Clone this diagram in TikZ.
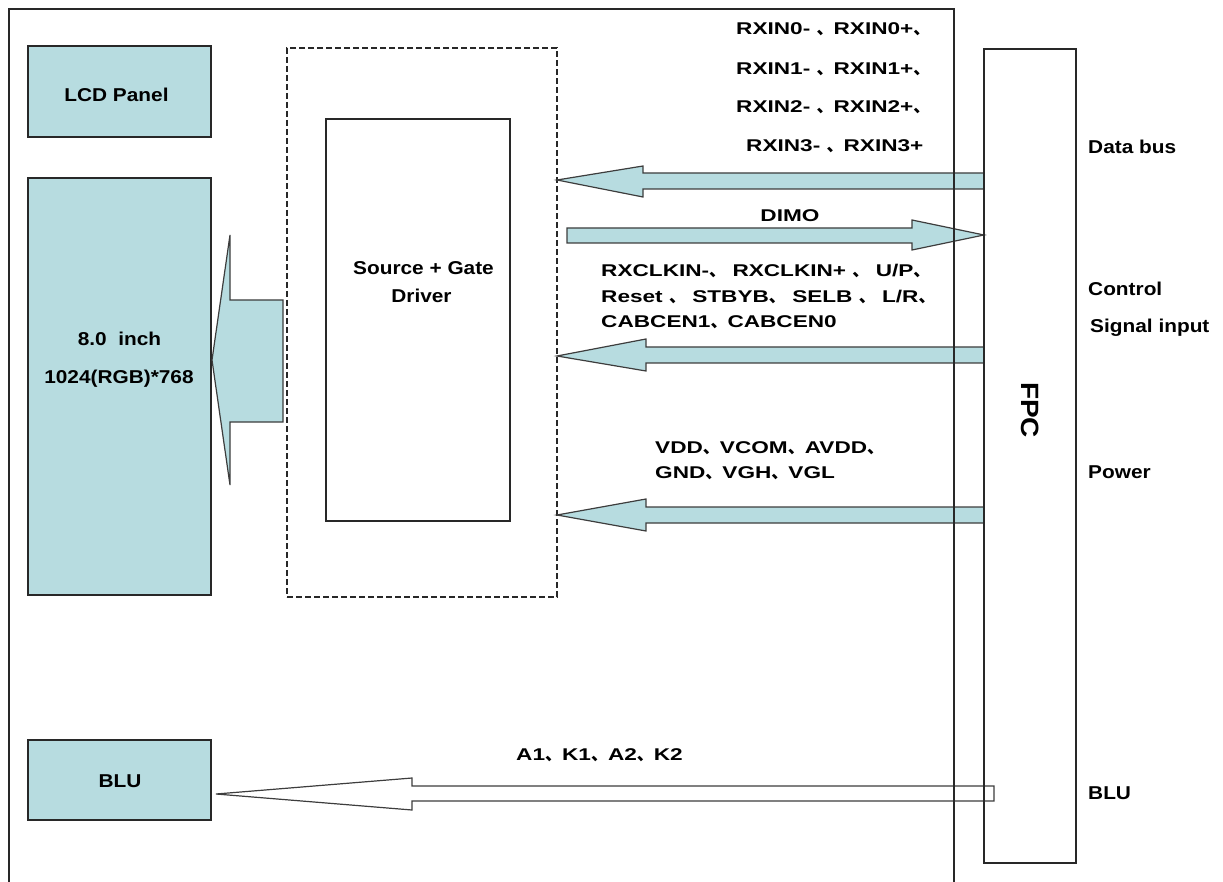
\documentclass[tikz,border=0pt]{standalone}
\usepackage{fontspec}
\setmainfont{Liberation Sans}
\newfontfamily\bigf{Liberation Sans}[FakeStretch=1.12]
\newfontfamily\smf{Liberation Sans}[FakeStretch=1.33]
\newfontfamily\cjk{Noto Sans CJK SC}
\newcommand\dn{{\cjk 、}}
\definecolor{panel}{RGB}{183,220,224}
\definecolor{edge}{RGB}{40,40,40}
\begin{document}
\begin{tikzpicture}[x=1pt,y=-1pt,
  box/.style={draw=edge,line width=1.3pt,inner sep=0pt,outer sep=0pt},
  filled/.style={box,fill=panel},
  bigt/.style={font=\bigf\bfseries\fontsize{18.6}{22}\selectfont,inner sep=0pt},
  smt/.style={font=\smf\bfseries\fontsize{17}{20}\selectfont,inner sep=0pt,anchor=base west},
  barrow/.style={draw=edge!90,line width=1.2pt,fill=panel,line join=miter},
  warrow/.style={draw=edge!90,line width=1.2pt,fill=white,line join=miter},
]
\useasboundingbox (0,0) rectangle (1223,882);

% boxes
\node[filled,minimum width=183pt,minimum height=91pt] (lcd) at (119.5,91.5) {};
\node[filled,minimum width=183pt,minimum height=417pt] (panel) at (119.5,386.5) {};
\node[filled,minimum width=183pt,minimum height=80pt] (blu) at (119.5,780) {};
\node[box,dashed,dash pattern=on 6pt off 3pt,line width=1.1pt,minimum width=270pt,minimum height=549pt] (dash) at (422,322.5) {};
\node[box,fill=white,minimum width=184pt,minimum height=402pt] (drv) at (418,320) {};

% box texts
\node[bigt,anchor=base] (lcdt) at (116.5,101.5) {LCD Panel};
\node[bigt,anchor=base] (pan1) at (119.5,345) {8.0\ \ inch};
\node[bigt,anchor=base] (pan2) at (119,384) {1024(RGB)*768};
\node[bigt,anchor=base] (blut) at (120,787) {BLU};
\node[bigt,anchor=base] (drv1) at (423.5,275) {Source + Gate};
\node[bigt,anchor=base] (drv2) at (421.5,303) {Driver};

% block arrows
\draw[barrow] (212,360) -- (230,235) -- (230,300) -- (283,300) -- (283,422) -- (230,422) -- (230,485) -- cycle;
\draw[barrow] (557,180) -- (643,166) -- (643,173) -- (984,173) -- (984,189) -- (643,189) -- (643,197) -- cycle;
\draw[barrow] (567,228) -- (912,228) -- (912,220) -- (984,235) -- (912,250) -- (912,243) -- (567,243) -- cycle;
\draw[barrow] (557,356) -- (646,339) -- (646,347) -- (984,347) -- (984,363) -- (646,363) -- (646,371) -- cycle;
\draw[barrow] (557,515) -- (646,499) -- (646,507) -- (984,507) -- (984,523) -- (646,523) -- (646,531) -- cycle;
\draw[warrow] (216,794) -- (412,778) -- (412,786) -- (994,786) -- (994,801) -- (412,801) -- (412,810) -- cycle;

% frame and FPC
\draw[edge,line width=1.3pt] (9,882) -- (9,9) -- (954,9) -- (954,882);
\node[box,minimum width=92pt,minimum height=814pt] (fpc) at (1030,456) {};
\node[bigt,font=\bigf\bfseries\fontsize{25}{28}\selectfont,rotate=-90] (fpct) at (1030,410) {FPC};

% signal labels
\node[smt] (rx0) at (736,35) {RXIN0- \dn RXIN0+\dn};
\node[smt] (rx1) at (736,75) {RXIN1- \dn RXIN1+\dn};
\node[smt] (rx2) at (736,113) {RXIN2- \dn RXIN2+\dn};
\node[smt] (rx3) at (746,152) {RXIN3- \dn RXIN3+};
\node[smt,anchor=base] (dimo) at (790,222) {DIMO};
\node[smt] (c1) at (601,277) {RXCLKIN-\dn{} RXCLKIN+ \dn{} U/P\dn};
\node[smt] (c2) at (601,303) {Reset \dn{} STBYB\dn{} SELB \dn{} L/R\dn};
\node[smt] (c3) at (601,328) {CABCEN1\dn CABCEN0};
\node[smt] (p1) at (655,453) {VDD\dn VCOM\dn AVDD\dn};
\node[smt] (p2) at (655,478) {GND\dn VGH\dn VGL};
\node[smt] (bl) at (516,760) {A1\dn K1\dn A2\dn K2};

% right labels
\node[bigt,anchor=base west] (ldb) at (1088,154) {Data bus};
\node[bigt,anchor=base west] (lct) at (1088,296) {Control};
\node[bigt,anchor=base west] (lsi) at (1090,333) {Signal input};
\node[bigt,anchor=base west] (lpw) at (1088,478) {Power};
\node[bigt,anchor=base west] (lbl) at (1088,799) {BLU};
\end{tikzpicture}
\end{document}
